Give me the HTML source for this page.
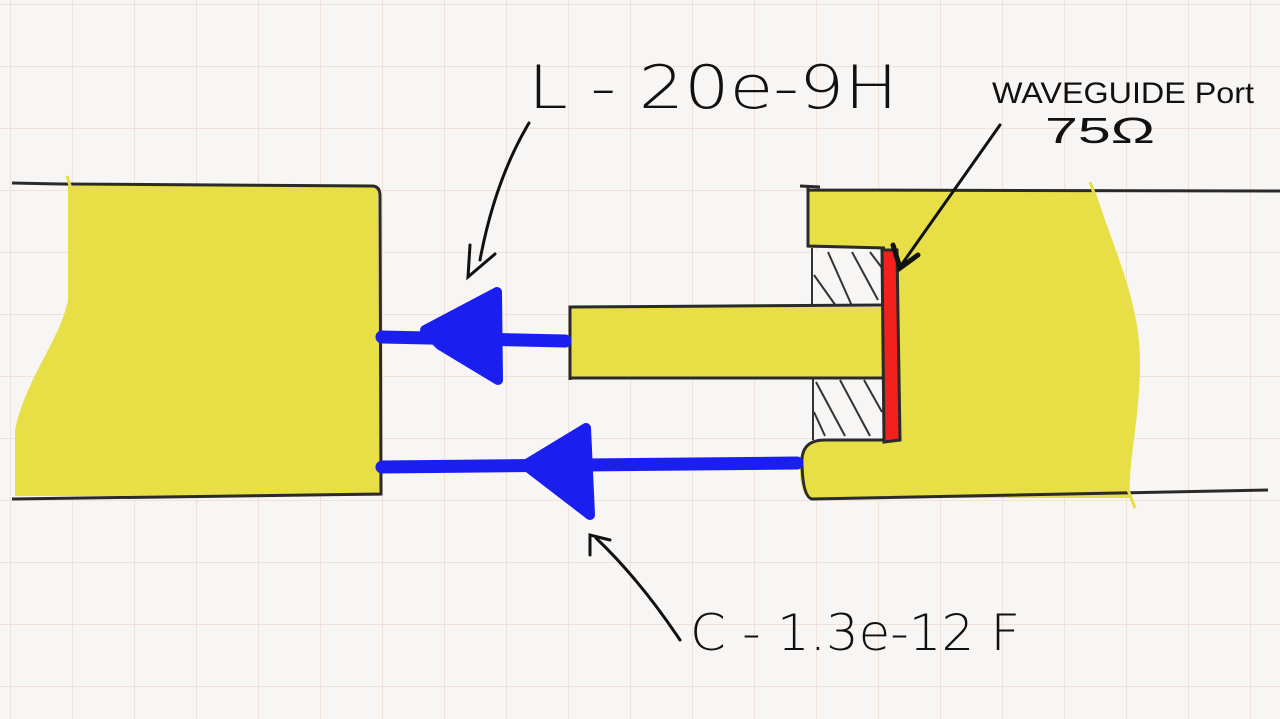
<!DOCTYPE html>
<html><head><meta charset="utf-8"><style>
html,body{margin:0;padding:0;background:#f7f6f4;}
svg{display:block;}
text{font-family:"Liberation Sans",sans-serif;fill:#111;}
</style></head><body>
<svg width="1280" height="719" viewBox="0 0 1280 719" xmlns="http://www.w3.org/2000/svg">
<defs>
<pattern id="g" width="62" height="62" patternUnits="userSpaceOnUse" x="10" y="4">
<path d="M0 0H62M0 0V62" stroke="#efdcd0" stroke-width="1.5" fill="none"/>
</pattern>
</defs>
<rect width="1280" height="719" fill="#f7f6f4"/>
<rect width="1280" height="719" fill="url(#g)"/>

<!-- left block -->
<path d="M68 186 L378 186 L380 496 L15 496 L15 430 C25 380 60 340 68 300 Z" fill="#e8de45"/>
<path d="M12 183 L60 184 L372 186 Q380 186 380 196 L381 494 L12 499" fill="none" stroke="#2a2a2a" stroke-width="3"/>
<path d="M67 176 L72 192" stroke="#e8de45" stroke-width="3"/>

<!-- right block yellow -->
<path d="M808 190 L1095 190 C1110 240 1140 300 1140 360 C1140 420 1128 460 1130 498 L808 498 Q800 490 800 470 Q800 445 815 440 L885 440 L885 248 L808 248 Z" fill="#e8de45"/>
<!-- hatch -->
<g stroke="#333" stroke-width="2">
<rect x="812" y="250" width="70" height="58" fill="#f7f6f4" stroke="none"/>
<rect x="813" y="378" width="70" height="62" fill="#f7f6f4" stroke="none"/>
<path d="M828 252 L852 306 M852 252 L878 300 M814 275 L836 306 M870 252 L882 268"/>
<path d="M816 382 L845 436 M840 380 L870 436 M814 412 L825 436 M864 380 L882 412"/>
<path d="M812 248 L812 308 M813 378 L813 440"/>
</g>
<!-- bar -->
<rect x="570" y="307" width="313" height="71" fill="#e8de45"/>
<path d="M570 380 L570 307 L883 305 M570 378 L883 378" fill="none" stroke="#2a2a2a" stroke-width="3"/>
<!-- right outlines -->
<path d="M800 186 L820 187 M808 190 L1280 191 M808 187 L808 246 L885 248" fill="none" stroke="#2a2a2a" stroke-width="3"/>
<path d="M885 440 L825 440 Q800 440 802 465 Q803 497 812 499 L1268 490" fill="none" stroke="#2a2a2a" stroke-width="3"/>
<path d="M1090 182 L1100 210 M1128 490 L1135 508" stroke="#e8de45" stroke-width="3"/>
<!-- red port -->
<path d="M882 250 L897 250 L900 440 L884 442 Z" fill="#f2211e" stroke="#2a2a2a" stroke-width="3"/>

<!-- blue arrows -->
<g stroke="#1a1ff0" stroke-linecap="round" stroke-linejoin="round" fill="#1a1ff0">
<path d="M382 337 L565 341" stroke-width="13" fill="none"/>
<path d="M425 330 L497 292 L498 380 L440 345 Z" stroke-width="10"/>
<path d="M382 467 L797 463" stroke-width="13" fill="none"/>
<path d="M525 465 L586 428 L590 515 Z" stroke-width="10"/>
</g>

<!-- black pointer arrows -->
<g stroke="#111" stroke-width="3" fill="none" stroke-linecap="round">
<path d="M529 123 Q495 180 480 260"/>
<path d="M470 245 L468 277 L495 254"/>
<path d="M1000 125 L902 264"/>
<path d="M893 245 L900 268 L918 255" stroke-width="5"/>
<path d="M680 640 Q640 580 596 538"/>
<path d="M590 555 L590 535 L610 540"/>
</g>

<!-- labels -->
<text x="528" y="108" font-size="60" style="font-family:'DejaVu Sans',sans-serif;font-weight:300" textLength="370" lengthAdjust="spacingAndGlyphs">L - 20e-9H</text>
<text x="992" y="103" font-size="30" textLength="262" lengthAdjust="spacingAndGlyphs">WAVEGUIDE Port</text>
<text x="1045" y="143" font-size="36" textLength="110" lengthAdjust="spacingAndGlyphs">75Ω</text>
<text x="690" y="650" font-size="50" style="font-family:'DejaVu Sans',sans-serif;font-weight:300" textLength="330" lengthAdjust="spacingAndGlyphs">C - 1.3e-12 F</text>
</svg>
</body></html>
